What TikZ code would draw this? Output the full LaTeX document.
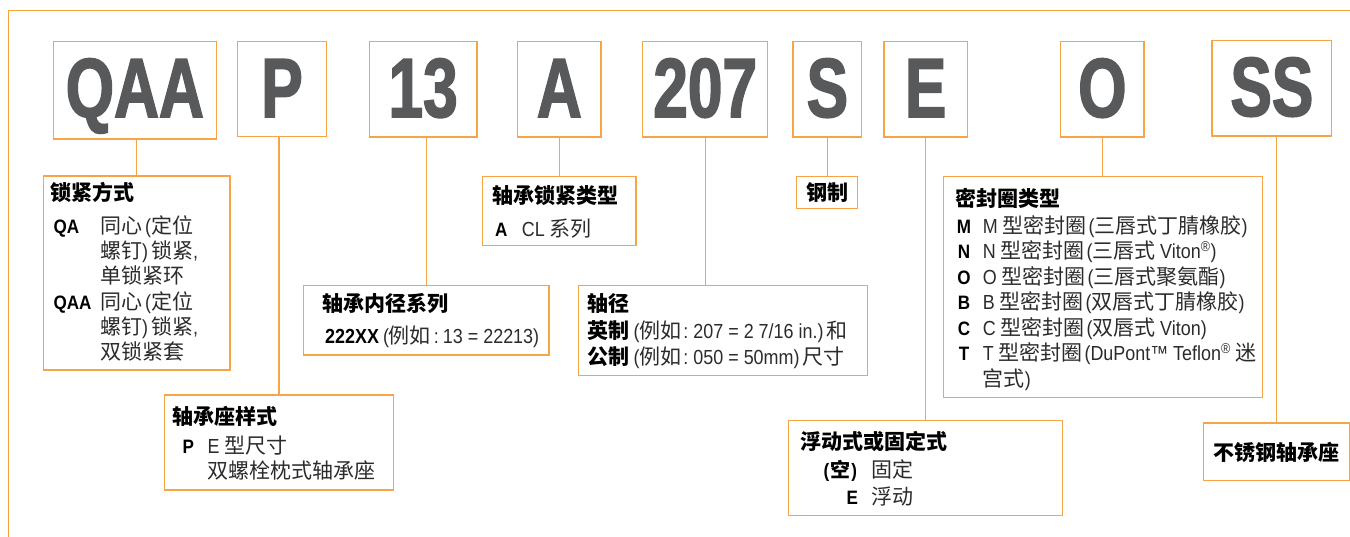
\documentclass[tikz,border=0pt]{standalone}
\usepackage{fontspec}
\usetikzlibrary{fit}
\setmainfont{Liberation Sans}
\newfontfamily\cjk{Noto Sans CJK SC}
\newfontfamily\latf{Liberation Sans}[Scale=0.97,FakeStretch=0.88]
\newfontfamily\bigf{Liberation Sans}[FakeStretch=0.74,BoldFeatures={FakeBold=1.8}]
\newcommand\La[1]{{\latf #1}}
\definecolor{obor}{HTML}{F7A449}
\definecolor{frm}{HTML}{F7A03F}
\definecolor{bigc}{HTML}{58595B}
\definecolor{tcol}{HTML}{2B2B2B}
\begin{document}
\begin{tikzpicture}[x=1pt,y=-1pt,
  box/.style={draw=obor, line width=1.3pt, inner sep=0pt, rectangle},
  bigl/.style={anchor=base, inner sep=0pt, text=bigc, font=\bigf\bfseries\fontsize{84}{84}\selectfont},
  txt/.style={anchor=base west, inner sep=0pt, text=tcol, font=\cjk\fontsize{21}{25}\selectfont},
  ttl/.style={txt, text=black, font=\cjk\bfseries\fontsize{21}{25}\selectfont},
  key/.style={anchor=base west, inner sep=0pt, text=black, font=\latf\bfseries\fontsize{20}{25}\selectfont},
  keyc/.style={key, anchor=base},
  keyr/.style={key, anchor=base east},
  link/.style={draw=obor, line width=1.3pt}]
\useasboundingbox (0,0) rectangle (1350,536);
% frame
\coordinate (f1) at (1351,10.3);
\coordinate (f2) at (8.7,10.3);
\coordinate (f3) at (8.7,537);
\draw[draw=frm, line width=1.3pt] (f1) -- (f2) -- (f3);
% top code boxes
\node[box, fit={(53.3,41.7) (216.3,139)}] (qaa) {};
\node[box, fit={(237.3,41.7) (326.7,136.7)}] (p) {};
\node[box, fit={(369.3,41.7) (477,137)}] (n13) {};
\node[box, fit={(517.7,41.7) (601,137)}] (a) {};
\node[box, fit={(642.7,41.7) (767.7,137)}] (n207) {};
\node[box, fit={(793,41.7) (861.7,137)}] (s) {};
\node[box, fit={(884,41.7) (967.3,137)}] (e) {};
\node[box, fit={(1060.7,41.7) (1144,137)}] (o) {};
\node[box, fit={(1212,40.7) (1331.7,136)}] (ss) {};
\node[bigl] (tqaa) at (qaa.center |- 0,117) {QAA};
\node[bigl] (tp) at (p.center |- 0,117) {P};
\node[bigl] (t13) at (n13.center |- 0,117) {13};
\node[bigl] (ta) at (a.center |- 0,117) {A};
\node[bigl] (t207) at (n207.center |- 0,117) {207};
\node[bigl] (ts) at (s.center |- 0,117) {S};
\node[bigl] (te) at (e.center |- 0,117) {E};
\node[bigl] (to) at (o.center |- 0,117) {O};
\node[bigl] (tss) at (ss.center |- 0,116) {SS};
% d1
\node[box, fit={(43.3,176) (230,370)}] (d1) {};
\node[ttl] (d1t) at (50.7,200.7) {锁紧方式};
\node[key] (d1k1) at (53.3,233) {QA};
\node[txt] (d1a) at (100,233) {同心\hspace{3pt}\La{(}定位};
\node[txt] (d1b) at (100,258) {螺钉\La{)}\hspace{3pt}锁紧\La{,}};
\node[txt] (d1c) at (100,283) {单锁紧环};
\node[key] (d1k2) at (53.3,309.7) {QAA};
\node[txt] (d1d) at (100,309.7) {同心\hspace{3pt}\La{(}定位};
\node[txt] (d1e) at (100,334.7) {螺钉\La{)}\hspace{3pt}锁紧\La{,}};
\node[txt] (d1f) at (100,359.7) {双锁紧套};
% d2
\node[box, fit={(164.3,395) (393.7,490)}] (d2) {};
\node[ttl] (d2t) at (172.3,424.7) {轴承座样式};
\node[key] (d2k) at (182.3,453) {P};
\node[txt] (d2a) at (207.3,453) {\La{E} 型尺寸};
\node[txt] (d2b) at (207.3,478) {双螺栓枕式轴承座};
% d3
\node[box, fit={(303.3,285.3) (549,355)}] (d3) {};
\node[ttl] (d3t) at (322.7,311.3) {轴承内径系列};
\node[txt] (d3a) at (325,343) {{\latf\bfseries\color{black}222XX}\hspace{4pt}\La{(}例如\hspace{3pt}\La{:}\hspace{4pt}\La{13 = 22213)}};
% d4
\node[box, fit={(482.7,176.3) (636,245.7)}] (d4) {};
\node[ttl] (d4t) at (492.3,203.7) {轴承锁紧类型};
\node[key] (d4k) at (495,236.3) {A};
\node[txt] (d4a) at (521.7,236.3) {\La{CL} 系列};
% d5
\node[box, fit={(578.3,285.3) (867.7,375.7)}] (d5) {};
\node[ttl] (d5t) at (587.3,311.3) {轴径};
\node[txt] (d5a) at (587.3,338) {{\bfseries\color{black}英制}\hspace{4pt}\La{(}例如\hspace{2pt}\La{:}\hspace{5pt}\La{207 = 2 7/16 in.)}\hspace{3pt}和};
\node[txt] (d5b) at (587.3,364.7) {{\bfseries\color{black}公制}\hspace{4pt}\La{(}例如\hspace{2pt}\La{:}\hspace{5pt}\La{050 = 50mm)}\hspace{3pt}尺寸};
% d6
\node[box, fit={(796.3,176.3) (857.7,208.7)}] (d6) {};
\node[ttl, anchor=base] (d6t) at (827,200.7) {钢制};
% d7
\node[box, fit={(943.7,176.3) (1262.3,397.7)}] (d7) {};
\node[ttl] (d7t) at (955,206.3) {密封圈类型};
\node[keyc] (d7k1) at (964,233) {M};
\node[keyc] (d7k2) at (964,258.6) {N};
\node[keyc] (d7k3) at (964,284.1) {O};
\node[keyc] (d7k4) at (964,309.7) {B};
\node[keyc] (d7k5) at (964,335.2) {C};
\node[keyc] (d7k6) at (964,360.8) {T};
\node[txt] (d7a) at (982.7,233) {\La{M} 型密封圈\hspace{2pt}\La{(}三唇式丁腈橡胶\La{)}};
\node[txt] (d7b) at (982.7,258.6) {\La{N} 型密封圈\hspace{2pt}\La{(}三唇式 \La{Viton\textsuperscript{®})}};
\node[txt] (d7c) at (982.7,284.1) {\La{O} 型密封圈\hspace{2pt}\La{(}三唇式聚氨酯\La{)}};
\node[txt] (d7d) at (982.7,309.7) {\La{B} 型密封圈\hspace{2pt}\La{(}双唇式丁腈橡胶\La{)}};
\node[txt] (d7e) at (982.7,335.2) {\La{C} 型密封圈\hspace{2pt}\La{(}双唇式 \La{Viton)}};
\node[txt] (d7f) at (982.7,360.8) {\La{T} 型密封圈\hspace{2pt}\La{(DuPont™ Teflon\textsuperscript{®}} 迷};
\node[txt] (d7g) at (982.7,386.3) {宫式\La{)}};
% d8
\node[box, fit={(788.3,420.3) (1062.3,515.3)}] (d8) {};
\node[ttl] (d8t) at (800,449.7) {浮动式或固定式};
\node[keyr] (d8k1) at (857.3,477.3) {(\hspace{1pt}{\cjk 空}\hspace{1pt})};
\node[keyr] (d8k2) at (858.3,504) {E};
\node[txt] (d8a) at (871.7,477.3) {固定};
\node[txt] (d8b) at (871.7,504) {浮动};
% d9
\node[box, fit={(1203.7,423) (1349.5,480.7)}] (d9) {};
\node[ttl, anchor=base] (d9t) at (1276.6,460.7) {不锈钢轴承座};
% connectors
\draw[link] (qaa.south -| d1.north) -- (d1.north);
\draw[link] (p.south -| d2.north) -- (d2.north);
\draw[link] (n13.south -| d3.north) -- (d3.north);
\draw[link] (a.south) -- (a.south |- d4.north);
\draw[link] (n207.south) -- (n207.south |- d5.north);
\draw[link] (s.south) -- (s.south |- d6.north);
\draw[link] (e.south) -- (e.south |- d8.north);
\draw[link] (o.south) -- (o.south |- d7.north);
\draw[link] (ss.south -| d9.north) -- (d9.north);
\end{tikzpicture}
\end{document}
